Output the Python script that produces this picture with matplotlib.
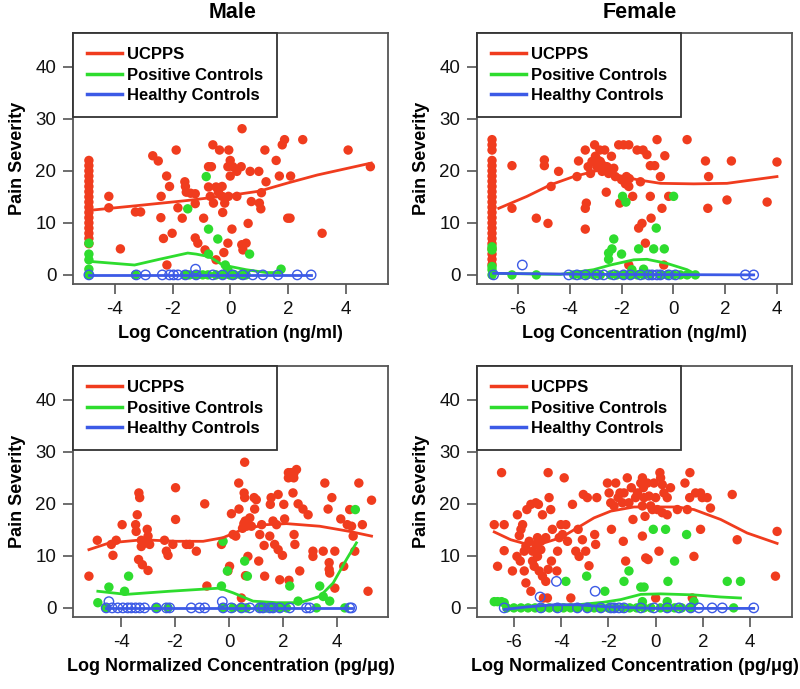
import matplotlib
matplotlib.use("Agg")
import matplotlib.pyplot as plt
from matplotlib.lines import Line2D

plt.rcParams['font.family'] = ['Liberation Sans', 'DejaVu Sans']
plt.rcParams['axes.unicode_minus'] = False

RED = '#F03C1E'
GREEN = '#2EDC2E'
BLUE = '#3C5AE6'

series_labels = ["UCPPS", "Positive Controls", "Healthy Controls"]
panel_titles = ["Male", "Female"]
y_label = "Pain Severity"
x_label_top = "Log Concentration (ng/ml)"
x_label_bottom = "Log Normalized Concentration (pg/\u03bcg)"
y_ticks = [0, 10, 20, 30, 40]

# ---------------- Panel 1: Male, concentration ----------------
p1_red_x = [-4.9]*17 + [
    -4.21, -4.21, -3.81, -3.29, -3.11, -2.69, -2.5, -2.4, -2.41, -2.32, -2.21, -2.11, -2.02, -2.2,
    -1.88, -1.82, -1.67, -1.58, -1.56, -1.53, -1.38, -1.22, -1.22, -1.22, -1.13, -0.93, -0.88,
    -0.76, -0.66, -0.61, -0.38, -0.76, -0.70, -0.59, -0.50, -0.42, -0.29, -0.29, -0.27, -0.20,
    -0.09, -0.06, -0.01, -0.09, -0.01, 0.08, 0.22, 0.37, 0.40, 0.05, -0.07, 0.22, 0.39, 0.43,
    0.54, 0.61, 0.68, 0.98, 0.72, 1.0, 1.05, 1.07, 1.19, 1.23, 1.58, 1.69, 1.79, 1.87, 1.98,
    2.06, 2.08, 2.5, 3.17, 4.07, 4.84, -0.23, -0.5]
p1_red_y = [22, 21, 20, 19, 18, 17, 16, 15, 14, 13, 12, 11, 10, 9, 8, 7, 6] + [
    15.1, 12.9, 5.0, 12.1, 12.1, 22.9, 21.9, 15.1, 11.0, 7.0, 19.0, 17.0, 8.0, 1.9,
    24.0, 12.9, 10.9, 17.9, 17.0, 15.9, 15.7, 15.6, 13.7, 7.1, 6.1, 10.9, 4.8,
    20.8, 20.8, 25.0, 24.0, 16.9, 15.1, 13.8, 16.9, 15.9, 17.0, 15.1, 12.0, 13.8,
    6.1, 24.0, 22.0, 20.8, 19.0, 20.8, 19.9, 20.8, 28.1, 8.8, 15.1, 15.1, 5.8, 4.8,
    6.1, 9.9, 19.9, 19.9, 14.1, 13.8, 12.7, 15.8, 24.0, 17.9, 22.0, 19.0, 25.0, 26.0, 10.9,
    10.9, 19.0, 26.0, 8.0, 24.0, 20.8, 4.3, 2.9]
p1_green_x = [-4.9, -4.9, -4.9, -4.9, -4.9, -3.29, -1.48, -0.84, -0.76, -0.44, -0.76, 0.66, 1.75,
              -0.09, -0.18, -1.59, -1.42, -1.19, -0.96, -0.78, -0.50, -0.27, -0.03, 0.14, 0.37, 0.54]
p1_green_y = [6.1, 4.0, 2.9, 1.1, 0, 0, 12.7, 18.9, 8.8, 6.9, 4.0, 4.0, 1.1,
              1.0, 1.9, 0, 0, 0, 0, 0, 0, 0, 0, 0, 0, 0]
p1_blue_x = [-1.21, -4.9, -3.26, -2.94, -2.36, -2.11, -1.97, -1.82, -1.56, -1.19, -0.61, -0.27,
             0.08, 0.43, 0.77, 1.12, 1.64, 2.31, 2.79]
p1_blue_y = [1.1, 0, 0, 0, 0, 0, 0, 0, 0, 0, 0, 0, 0, 0, 0, 0, 0, 0, 0]
p1_red_fit_x = [-4.71, -3.26, -1.5, 0, 1, 2, 3, 4.87]
p1_red_fit_y = [12.5, 13.3, 14.3, 15.3, 16.1, 17.7, 19.2, 21.5]
p1_green_fit_x = [-4.88, -3.32, -2.46, -1.48, -1.19, -0.73, -0.27, 0.54, 1.23, 1.75]
p1_green_fit_y = [2.6, 1.9, 3.0, 4.2, 4.0, 3.5, 1.9, 1.0, 0.45, 0.45]
p1_blue_fit_x = [-4.9, 2.79]
p1_blue_fit_y = [0, 0]

# ---------------- Panel 2: Female, concentration ----------------
p2_red_x = [-7.0]*24 + [
    -6.23, -6.23, -5.29, -4.98, -4.98, -4.84, -4.72, -4.43, -3.72, -3.66, -3.40, -3.40, -3.36,
    -3.40, -3.29, -3.14, -3.04, -3.01, -2.95, -2.84, -2.82, -2.75, -2.65, -2.56, -2.59, -2.39,
    -2.24, -2.11, -2.07, -1.92, -1.81, -1.72, -1.72, -1.57, -1.72, -1.40, -1.27, -1.17, -1.02,
    -0.89, -0.72, -0.89, -1.21, -1.34, -1.08, -0.86, -0.63, -0.50, -0.33, -0.44, -0.37, -0.18,
    0.53, 1.24, 1.36, 1.33, 2.07, 2.24, 3.62, 4.0,
    -3.2, -2.9, -2.7, -2.5, -2.3, -2.0, -1.85, -1.7]
p2_red_y = [26, 25, 24, 22, 21, 20, 19, 18, 17, 16, 15, 14, 13, 12, 11, 10, 9, 8, 7, 6, 5, 4, 3, 2] + [
    21.0, 12.8, 10.9, 22.1, 21.0, 9.9, 17.0, 19.9, 18.9, 21.9, 24.0, 12.8, 13.8,
    8.8, 20.8, 21.8, 25.0, 22.8, 20.8, 24.0, 21.8, 19.9, 24.0, 20.8, 15.9, 22.8,
    18.9, 25.0, 13.8, 25.0, 18.9, 25.0, 17.0, 15.1, 1.9, 24.0, 17.9, 24.0, 23.1,
    21.0, 21.0, 15.1, 9.9, 9.0, 6.1, 10.9, 26.0, 18.9, 22.9, 12.8, 1.9, 15.1,
    26.0, 21.9, 18.9, 12.8, 14.4, 21.9, 14.0, 21.7,
    19.5, 22.0, 21.0, 19.5, 20.5, 18.3, 17.5, 18.5]
p2_green_x = [-7.0, -7.0, -7.0, -7.0, -7.0,
              -1.96, -1.83, 0.01, -0.66, -2.30, -2.37, -2.5, -2.5, -2.0, -1.34, -0.76, -0.35, -1.6, -1.15,
              -6.23, -5.29, -3.85, -3.59, -3.33, -3.08, -2.82, -2.43, -2.18, -1.92, -1.66, -1.40, -1.15,
              -0.89, -0.50, -0.24, 0.01, 0.27, 0.53, 0.85]
p2_green_y = [5.4, 4.8, 1.6, 1.0, 0,
              15.1, 14.0, 15.1, 9.0, 6.9, 5.0, 4.2, 3.0, 4.0, 5.0, 5.0, 5.0, 1.0, 1.1,
              0, 0, 0, 0, 0, 0, 0, 0, 0, 0, 0, 0, 0, 0, 0, 0, 0, 0, 0, 0]
p2_blue_x = [-5.83, -6.94, -4.04, -3.72, -3.40, -2.95, -2.69, -2.30, -1.92, -1.66, -1.27, -0.95,
             -0.82, -0.63, -0.50, -0.18, 0.08, 2.78, 3.10]
p2_blue_y = [1.9, 0, 0, 0, 0, 0, 0, 0, 0, 0, 0, 0, 0, 0, 0, 0, 0, 0, 0]
p2_red_fit_x = [-6.74, -5.65, -4.75, -3.85, -2.82, -2.18, -1.40, -0.5, 0.79, 2.07, 4.0]
p2_red_fit_y = [12.8, 15.1, 17.3, 18.9, 20.2, 19.2, 18.3, 17.6, 17.5, 17.6, 18.9]
p2_green_fit_x = [-6.94, -4.36, -3.08, -2.43, -1.53, -1.02, -0.24, 0.53, 0.91]
p2_green_fit_y = [0.3, 0.1, 1.0, 1.9, 2.9, 3.0, 2.2, 1.0, 0.0]
p2_blue_fit_x = [-6.94, -3.08, 3.10]
p2_blue_fit_y = [0.3, 0.1, 0.0]

# ---------------- Panel 3: Male, normalized ----------------
p3_red_x = [
    -5.19, -4.88, -4.36, -4.30, -4.18, -3.96, -3.46, -3.44, -3.34, -3.31, -3.40, -3.35, -3.21, -3.0,
    -3.25, -3.12, -3.0, -2.94, -3.25, -3.03, -2.39, -2.32, -2.26, -2.08, -1.98, -1.98, -1.58, -1.46,
    -1.21, -0.90, -0.82, -0.28, 0.02, -0.04, 0.09, 0.15, 0.25, 0.36, 0.37, 0.46, 0.5, 0.55, 0.6,
    0.65, 0.58, 0.56, 0.58, 0.61, 0.70, 0.77, 0.83, 0.93, 1.01, 0.95, 1.10, 1.14, 1.21, 1.30, 1.32,
    1.51, 1.53, 1.56, 1.63, 1.69, 1.76, 1.82, 1.82, 1.88, 1.98, 2.03, 2.06, 2.2, 2.3, 2.4, 2.5,
    2.2, 2.4, 2.22, 2.37, 2.41, 2.44, 2.56, 2.62, 2.74, 2.93, 3.11, 3.11, 3.49, 3.55, 3.67, 3.71,
    3.71, 3.73, 3.81, 3.92, 3.92, 4.14, 4.25, 4.38, 4.54, 4.47, 4.6, 4.66, 4.81, 4.94, 5.15, 5.28]
p3_red_y = [
    6.1, 13.0, 12.2, 10.1, 13.0, 16.0, 16.0, 14.7, 22.1, 21.2, 17.9, 9.3, 8.3, 7.2,
    13.0, 12.5, 13.8, 12.2, 11.8, 15.1, 13.0, 10.9, 10.1, 12.2, 23.1, 17.0, 12.2, 12.2,
    10.9, 20.0, 4.2, 12.2, 8.0, 7.1, 18.1, 14.1, 13.8, 24.0, 19.0, 1.9, 15.3, 16.2, 16.7,
    15.7, 28.0, 22.1, 21.2, 6.2, 9.9, 17.3, 15.7, 21.2, 20.8, 19.0, 9.0, 14.1, 16.0, 12.0, 6.1,
    13.8, 19.9, 21.2, 16.7, 12.2, 16.0, 11.2, 21.8, 5.4, 10.1, 19.9, 17.1, 26.0, 26.0, 25.8, 26.6,
    25.0, 25.0, 5.3, 22.1, 14.1, 12.2, 20.0, 7.1, 19.0, 17.9, 10.9, 9.9, 10.9, 24.0, 19.0, 8.7,
    7.4, 6.7, 21.2, 10.9, 3.8, 17.1, 8.0, 16.0, 15.7, 18.9, 13.8, 10.9, 24.0, 16.0, 3.2, 20.7]
p3_green_x = [-4.86, -4.45, -3.87, -3.72, -0.28, -0.22, -0.06, 0.58, 0.68, 2.25, 2.56, 3.36, 3.49,
              3.73, 4.68, -4.55, -2.69, -2.26, -0.22, 0.15, 0.46, 0.64, 1.14, 1.38, 1.63, 1.88,
              2.13, 3.24, 4.29]
p3_green_y = [1.0, 4.0, 3.2, 6.1, 4.2, 12.8, 7.1, 9.0, 6.1, 4.2, 1.3, 4.2, 2.2,
              1.3, 18.9, 0, 0, 0, 0, 0, 0, 0, 0, 0, 0, 0, 0, 0, 0]
p3_blue_x = [-4.45, -0.25, -4.55, -4.33, -4.12, -3.93, -3.75, -3.62, -3.46, -3.31, -3.13, -2.69,
             -2.32, -2.20, -1.40, -1.09, -0.90, -0.22, 0.09, 0.46, 0.77, 1.14, 1.26, 1.51, 1.63,
             1.88, 2.25, 2.87, 2.99, 4.47, 4.54]
p3_blue_y = [1.2, 1.2, 0, 0, 0, 0, 0, 0, 0, 0, 0, 0, 0, 0, 0, 0, 0, 0, 0, 0, 0, 0, 0, 0, 0,
             0, 0, 0, 0, 0, 0]
p3_red_fit_x = [-5.19, -4.43, -3.19, -1.95, -0.96, -0.22, 0.52, 1.38, 2.13, 3.36, 4.47, 5.28]
p3_red_fit_y = [11.2, 12.5, 13.1, 12.8, 12.8, 13.5, 15.1, 16.0, 16.2, 15.7, 14.7, 13.8]
p3_green_fit_x = [-4.86, -3.81, -2.20, -0.35, 0.15, 0.89, 1.76, 2.62, 3.36, 3.86, 4.35, 4.72]
p3_green_fit_y = [3.2, 2.6, 3.2, 3.8, 2.9, 1.3, 1.0, 1.0, 2.2, 4.8, 9.3, 12.5]
p3_blue_fit_x = [-4.55, 4.54]
p3_blue_fit_y = [0, 0]

# ---------------- Panel 4: Female, normalized ----------------
p4_red_x = [
    -6.83, -6.69, -6.52, -6.41, -6.41, -6.06, -5.85, -5.77, -5.70, -5.63, -5.87, -5.73, -5.56, -5.49,
    -5.56, -5.49, -5.28, -5.45, -5.28, -5.07, -4.96, -5.35, -5.21, -5.21, -5.07, -5.0, -4.86, -4.65,
    -4.86, -5.0, -5.14, -4.93, -4.79, -4.65, -4.55, -4.75, -4.58, -4.79, -4.55, -4.51, -4.44, -4.37,
    -4.41, -4.18, -4.15, -4.08, -4.01, -3.94, -3.87, -3.80, -3.73, -3.52, -3.59, -3.38, -3.28, -3.24,
    -3.10, -3.06, -2.96, -2.89, -2.82, -2.58, -2.54, -2.49, -2.04, -1.97, -1.90, -1.87, -1.76, -1.69,
    -1.59, -1.51, -1.41, -1.37, -1.34, -1.27, -1.20, -1.13, -1.03, -0.96, -0.85, -0.77, -0.63, -0.56,
    -0.52, -0.49, -0.56, -0.56, -0.45, -0.42, -0.32, -0.35, -0.28, -0.21, -0.14, -0.07, 0.0, 0.07,
    0.18, 0.21, 0.28, 0.35, 0.28, 0.14, 0.49, 0.49, 0.63, 0.92, 1.24, 1.34, 1.44, 1.45, 1.62, 1.69,
    1.90, 1.90, 1.97, 2.18, 2.32, 3.24, 3.45, 5.07, 5.14, 0.0, 1.55]
p4_red_y = [
    16.0, 8.0, 26.0, 16.0, 11.0, 7.1, 17.9, 13.9, 15.1, 16.0, 9.9, 9.0, 10.9, 11.9,
    7.1, 4.8, 3.2, 18.9, 19.9, 20.2, 19.9, 12.8, 10.9, 9.0, 12.2, 13.5, 12.8, 13.5,
    11.2, 9.9, 8.0, 7.1, 6.1, 5.1, 7.4, 1.9, 1.9, 17.9, 26.0, 21.2, 18.9, 15.1,
    9.0, 7.1, 10.9, 13.5, 16.0, 14.1, 25.0, 16.0, 12.8, 19.9, 1.9, 10.9, 15.1, 9.9,
    13.1, 21.8, 10.9, 21.2, 8.1, 14.1, 12.2, 21.2, 24.0, 22.1, 20.2, 15.1, 19.6, 24.0,
    21.2, 22.1, 20.2, 12.8, 22.1, 9.0, 25.0, 20.2, 23.1, 17.0, 21.2, 22.1, 24.0, 25.0,
    23.1, 21.2, 19.6, 13.8, 17.6, 9.6, 9.3, 24.0, 21.5, 19.6, 18.9, 24.0, 21.2, 18.9,
    26.0, 25.0, 23.7, 22.1, 18.3, 10.9, 17.9, 21.2, 23.1, 18.9, 24.0, 18.9, 21.2, 26.0, 9.9, 22.1,
    22.1, 15.1, 21.2, 21.2, 19.2, 21.8, 13.1, 6.1, 14.7, 1.9, 1.9]
p4_green_x = [-6.83, -6.69, -6.52, -6.41, -3.80, -2.92, -2.15, -1.34, -1.13, -0.63, -0.49, -0.10,
              0.42, 0.52, 0.80, 1.31, 3.03, 3.59, -0.56, 0.49, 1.62,
              -6.3, -6.0, -5.7, -5.4, -5.1, -4.8, -4.5, -4.2, -3.9, -3.6, -3.3, -2.9, -2.6, -2.3,
              -2.0, -1.7, -1.4, -1.1, -0.8, -0.5, -0.2, 0.2, 0.5, 0.8, 1.1, 1.5, 3.3]
p4_green_y = [1.2, 1.2, 1.2, 1.0, 5.1, 6.1, 3.2, 5.1, 7.1, 4.0, 4.0, 15.1,
              15.1, 5.1, 9.0, 14.1, 5.1, 5.1, 1.2, 1.2, 1.2,
              0, 0, 0, 0, 0, 0, 0, 0, 0, 0, 0, 0, 0, 0,
              0, 0, 0, 0, 0, 0, 0, 0, 0, 0, 0, 0, 0]
p4_blue_x = [-4.20, -2.56, -4.89, -6.41, -4.86, -4.15, -3.31, -2.89, -2.32, -1.90, -1.76, -1.55,
             -1.34, -0.63, -0.07, 0.49, 0.99, 1.48, 1.83, 2.39, 2.82, 4.15]
p4_blue_y = [5.1, 3.2, 2.1, 0, 0, 0, 0, 0, 0, 0, 0, 0, 0, 0, 0, 0, 0, 0, 0, 0, 0, 0]
p4_red_fit_x = [-6.83, -6.13, -5.42, -4.72, -4.01, -3.31, -2.61, -1.90, -0.92, 0.0, 0.92, 1.62,
                2.75, 3.87, 5.14]
p4_red_fit_y = [14.6, 13.1, 12.2, 12.5, 13.5, 15.4, 17.3, 18.6, 19.4, 19.4, 19.4, 18.9,
                17.0, 14.4, 12.4]
p4_green_fit_x = [-6.41, -4.72, -3.31, -2.18, -1.48, -0.63, 0.21, 1.62, 2.75, 3.59]
p4_green_fit_y = [0.2, 0.45, 0.6, 1.1, 1.6, 2.6, 2.7, 2.5, 2.1, 1.9]
p4_blue_fit_x = [-6.41, -5.42, -4.30, -3.31, -2.04, -0.07, 4.15]
p4_blue_fit_y = [-0.3, 0.2, 0.6, 0.6, 0.2, -0.1, -0.1]

panels = [
    dict(rect=[73, 33, 315, 251], xlim=(-5.45, 5.45), xticks=[-4, -2, 0, 2, 4],
         red=(p1_red_x, p1_red_y), green=(p1_green_x, p1_green_y), blue=(p1_blue_x, p1_blue_y),
         rfit=(p1_red_fit_x, p1_red_fit_y), gfit=(p1_green_fit_x, p1_green_fit_y),
         bfit=(p1_blue_fit_x, p1_blue_fit_y), xlabel=x_label_top),
    dict(rect=[477, 33, 315, 251], xlim=(-7.58, 4.58), xticks=[-6, -4, -2, 0, 2, 4],
         red=(p2_red_x, p2_red_y), green=(p2_green_x, p2_green_y), blue=(p2_blue_x, p2_blue_y),
         rfit=(p2_red_fit_x, p2_red_fit_y), gfit=(p2_green_fit_x, p2_green_fit_y),
         bfit=(p2_blue_fit_x, p2_blue_fit_y), xlabel=x_label_top),
    dict(rect=[73, 366, 315, 251], xlim=(-5.78, 5.89), xticks=[-4, -2, 0, 2, 4],
         red=(p3_red_x, p3_red_y), green=(p3_green_x, p3_green_y), blue=(p3_blue_x, p3_blue_y),
         rfit=(p3_red_fit_x, p3_red_fit_y), gfit=(p3_green_fit_x, p3_green_fit_y),
         bfit=(p3_blue_fit_x, p3_blue_fit_y), xlabel=x_label_bottom),
    dict(rect=[477, 366, 315, 251], xlim=(-7.56, 5.77), xticks=[-6, -4, -2, 0, 2, 4],
         red=(p4_red_x, p4_red_y), green=(p4_green_x, p4_green_y), blue=(p4_blue_x, p4_blue_y),
         rfit=(p4_red_fit_x, p4_red_fit_y), gfit=(p4_green_fit_x, p4_green_fit_y),
         bfit=(p4_blue_fit_x, p4_blue_fit_y), xlabel=x_label_bottom),
]

W, H = 800, 689
fig = plt.figure(figsize=(W/100, H/100), dpi=100)
fig.patch.set_facecolor('white')

for p in panels:
    l, t, w, h = p['rect']
    ax = fig.add_axes([l/W, 1 - (t + h)/H, w/W, h/H])
    ax.set_xlim(*p['xlim'])
    ax.set_ylim(-1.75, 46.5)
    ax.set_xticks(p['xticks'])
    ax.set_yticks(y_ticks)
    for s in ax.spines.values():
        s.set_color('#555555')
        s.set_linewidth(1.3)
    ax.tick_params(direction='out', length=7, width=1.2, color='#555555',
                   labelsize=13.5, pad=5, labelcolor='#111111')

    ms = 46
    ax.scatter(*p['red'], s=ms, color=RED, edgecolors='none', zorder=2)
    ax.scatter(*p['green'], s=ms, color=GREEN, edgecolors='none', zorder=3)
    ax.plot(*p['rfit'], color=RED, lw=2.0, zorder=4)
    ax.plot(*p['gfit'], color=GREEN, lw=2.0, zorder=4)
    ax.scatter(*p['blue'], s=ms, facecolors='none', edgecolors=BLUE, linewidths=1.0, zorder=5)
    ax.plot(*p['bfit'], color=BLUE, lw=2.0, zorder=6)

    ax.set_ylabel(y_label, fontsize=13, fontweight='bold', labelpad=7)
    ax.set_xlabel(p['xlabel'], fontsize=13, fontweight='bold', labelpad=5)

    handles = [Line2D([], [], color=c, lw=2.5) for c in (RED, GREEN, BLUE)]
    leg = ax.legend(handles, series_labels, loc='upper left', bbox_to_anchor=(0, 1),
                    borderaxespad=0, fancybox=False, framealpha=1, edgecolor='#333333',
                    prop={'weight': 'bold', 'size': 12}, handlelength=2.1, handletextpad=0.3,
                    labelspacing=0.33, borderpad=0.85)
    leg.get_frame().set_linewidth(1.3)
    leg.set_zorder(10)

fig.text(233/W, 1 - 13/H, panel_titles[0], ha='center', va='center', fontsize=15.5, fontweight='bold')
fig.text(640/W, 1 - 13/H, panel_titles[1], ha='center', va='center', fontsize=15.5, fontweight='bold')

fig.savefig('out.png', dpi=100, facecolor='white')
